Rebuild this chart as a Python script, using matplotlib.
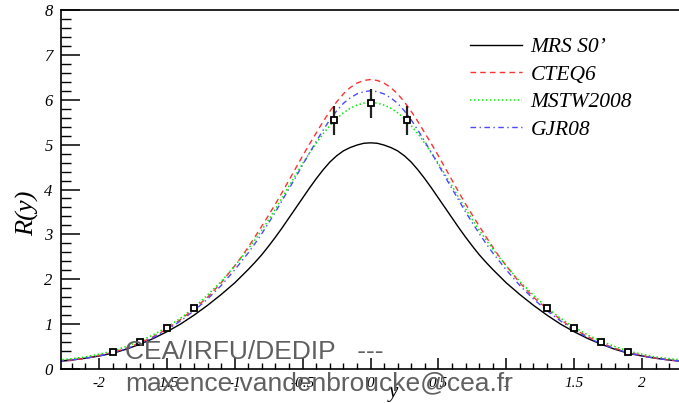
import matplotlib
matplotlib.use("Agg")
import matplotlib.pyplot as plt
import numpy as np

# rapidity grid (half, y >= 0); curves are symmetric in y
y_half = [0.0, 0.05, 0.1, 0.15, 0.2, 0.25, 0.3, 0.35, 0.4, 0.45, 0.5, 0.55, 0.6,
          0.65, 0.7, 0.75, 0.8, 0.85, 0.9, 0.95, 1.0, 1.1, 1.2, 1.3, 1.4, 1.5,
          1.6, 1.7, 1.8, 1.9, 2.0, 2.1, 2.2, 2.3]
mrs_half = [5.04, 5.03, 4.99, 4.935, 4.86, 4.75, 4.61, 4.435, 4.24, 4.03, 3.81,
            3.59, 3.37, 3.15, 2.94, 2.74, 2.55, 2.38, 2.22, 2.07, 1.92,
            1.66, 1.42, 1.20, 1.00, 0.83, 0.68, 0.55, 0.44, 0.35, 0.29, 0.24, 0.20, 0.17]
cteq_half = [6.45, 6.43, 6.37, 6.27, 6.13, 5.95, 5.74, 5.51, 5.26, 5.01, 4.75,
             4.48, 4.21, 3.94, 3.68, 3.43, 3.19, 2.95, 2.72, 2.50, 2.30,
             1.92, 1.60, 1.34, 1.10, 0.89, 0.72, 0.58, 0.46, 0.37, 0.30, 0.24, 0.20, 0.17]
mstw_half = [5.94, 5.925, 5.88, 5.81, 5.71, 5.58, 5.42, 5.24, 5.03, 4.81, 4.58,
             4.33, 4.08, 3.82, 3.57, 3.33, 3.10, 2.88, 2.68, 2.48, 2.30,
             1.95, 1.65, 1.37, 1.13, 0.93, 0.76, 0.62, 0.50, 0.40, 0.33, 0.27, 0.23, 0.20]
gjr_half = [6.20, 6.18, 6.13, 6.04, 5.92, 5.75, 5.55, 5.32, 5.07, 4.81, 4.55,
            4.28, 4.02, 3.76, 3.50, 3.26, 3.02, 2.80, 2.59, 2.40, 2.21,
            1.86, 1.56, 1.30, 1.07, 0.87, 0.70, 0.56, 0.45, 0.36, 0.29, 0.24, 0.20, 0.17]

# data points
data_y = [-1.9, -1.7, -1.5, -1.3, -0.27, 0.0, 0.27, 1.3, 1.5, 1.7, 1.9]
data_r = [0.37, 0.60, 0.91, 1.35, 5.54, 5.92, 5.54, 1.35, 0.91, 0.60, 0.37]
data_err = [0.04, 0.04, 0.05, 0.06, 0.33, 0.33, 0.33, 0.06, 0.05, 0.04, 0.04]

labels = ["MRS S0\u2019", "CTEQ6", "MSTW2008", "GJR08"]
xticks = [-2, -1.5, -1, -0.5, 0, 0.5, 1, 1.5, 2]
xticklabels = ["-2", "-1.5", "-1", "-0.5", "0", "0.5", "1", "1.5", "2"]
yticks = [0, 1, 2, 3, 4, 5, 6, 7, 8]


def full(half_y, half_v):
    yy = [-v for v in half_y[:0:-1]] + list(half_y)
    vv = list(half_v[:0:-1]) + list(half_v)
    return yy, vv


W, H = 679, 403
fig = plt.figure(figsize=(W / 100, H / 100), dpi=100)
x0, x1 = -2.28, 2.30
ppu = 135.75
left_px = 61
right_px = left_px + (x1 - x0) * ppu
ax = fig.add_axes([left_px / W, 1 - 369 / H, (right_px - left_px) / W, (369 - 10) / H])
ax.set_xlim(x0, x1)
ax.set_ylim(0, 8)

serif_it = dict(family="Liberation Serif", style="italic")

yy, v = full(y_half, mrs_half)
l1, = ax.plot(yy, v, color="black", lw=1.0, solid_joinstyle="round")
yy, v = full(y_half, cteq_half)
l2, = ax.plot(yy, v, color="#ff3030", lw=1.0, dashes=(4, 3))
yy, v = full(y_half, mstw_half)
l3, = ax.plot(yy, v, color="#00ee00", lw=1.1, dashes=(1, 1.6))
yy, v = full(y_half, gjr_half)
l4, = ax.plot(yy, v, color="#4a4aff", lw=1.0, dashes=(4, 2.5, 1, 2.5))

ax.errorbar(data_y, data_r, yerr=data_err, fmt="s", ms=4, mfc="white",
            mec="black", mew=1.3, ecolor="#222222", elinewidth=1.6, capsize=0, zorder=5)

leg = ax.legend([l1, l2, l3, l4], labels, loc="upper left",
                bbox_to_anchor=((451 - left_px) / (right_px - left_px), 1 - 8 / 359),
                frameon=False, handlelength=2.4, handletextpad=0.4,
                labelspacing=0.34, prop=dict(family="Liberation Serif", style="italic", size=15.5))

ax.set_xticks(xticks)
ax.set_xticklabels(xticklabels, **serif_it, fontsize=11)
ax.set_yticks(yticks)
ax.set_yticklabels([str(t) for t in yticks], **serif_it, fontsize=12)
ax.xaxis.set_minor_locator(matplotlib.ticker.MultipleLocator(0.1))
ax.yaxis.set_minor_locator(matplotlib.ticker.MultipleLocator(0.2))
ax.tick_params(axis="x", which="major", direction="in", length=8, width=1.1, pad=6)
ax.tick_params(axis="x", which="minor", direction="in", length=4.3, width=1.0)
ax.tick_params(axis="y", which="major", direction="in", length=13.5, width=1.1, pad=6)
ax.tick_params(axis="y", which="minor", direction="in", length=7, width=1.0)
for s in ax.spines.values():
    s.set_linewidth(1.2)

fig.text(28 / W, 1 - 213 / H, "R(y)", rotation=90, ha="center", va="center",
         fontsize=19, **serif_it)
fig.text(393 / W, 1 - 397 / H, "y", ha="center", va="baseline", fontsize=15, **serif_it)

fig.text(125 / W, 1 - 359 / H, "CEA/IRFU/DEDIP   ---", color="#606060",
         family="Liberation Sans", fontsize=19, ha="left", va="baseline")
fig.text(125 / W, 1 - 390 / H, "maxence.vandenbroucke@cea.fr", color="#606060",
         family="Liberation Sans", fontsize=19, ha="left", va="baseline")

fig.savefig("out.png", dpi=100)
